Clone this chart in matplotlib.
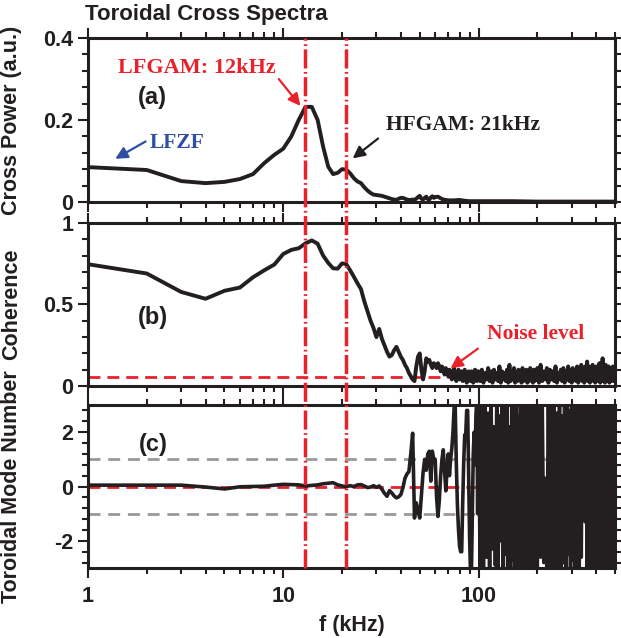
import numpy as np
import matplotlib
matplotlib.use("Agg")
import matplotlib.pyplot as plt
import matplotlib.ticker as ticker
import matplotlib.transforms as mtransforms
from matplotlib.lines import Line2D

plt.rcParams["font.family"] = ["Liberation Sans", "DejaVu Sans"]
plt.rcParams["font.weight"] = "bold"
plt.rcParams["axes.unicode_minus"] = False

# ---- cross power, panel (a)
f_power = [1, 2, 3, 4, 5, 6, 7, 8, 9, 10, 11, 12, 13, 14, 15, 16, 17, 18, 19, 20,
           21, 22, 23, 24, 25, 26, 27, 28, 29, 30, 31, 32, 33, 34, 35, 36, 37, 38, 39, 40,
           41, 42, 43, 44, 45, 46, 47, 48, 49, 50, 51, 52, 53, 54, 55, 56, 57, 58, 59, 60,
           62, 64, 66, 68, 70, 75, 80, 85, 90, 100, 150, 200, 300, 400, 500]
cross_power = [0.085, 0.078, 0.051, 0.046, 0.049, 0.056, 0.068, 0.095, 0.115, 0.130,
               0.160, 0.200, 0.232, 0.232, 0.200, 0.135, 0.086, 0.068, 0.071, 0.080,
               0.079, 0.070, 0.058, 0.050, 0.046, 0.036, 0.028, 0.022, 0.018, 0.017,
               0.016, 0.015, 0.013, 0.011, 0.009, 0.007, 0.006, 0.005, 0.008, 0.010,
               0.010, 0.008, 0.006, 0.005, 0.005, 0.006, 0.005, 0.008, 0.012, 0.015,
               0.008, 0.006, 0.010, 0.013, 0.007, 0.006, 0.011, 0.014, 0.010, 0.012,
               0.013, 0.009, 0.006, 0.005, 0.004, 0.004, 0.005, 0.003, 0.002, 0.002,
               0.002, 0.001, 0.001, 0.001, 0.001]

# ---- shared frequency grid for coherence and mode number (kHz)
freq = np.concatenate([np.arange(1, 100), np.arange(100, 200, 2), np.arange(200, 501, 4)])

coherence = [
    0.747, 0.690, 0.577, 0.535, 0.584, 0.604, 0.667, 0.710, 0.745, 0.810,
    0.835, 0.845, 0.875, 0.893, 0.873, 0.800, 0.755, 0.722, 0.720, 0.752,
    0.748, 0.710, 0.670, 0.630, 0.595, 0.520, 0.460, 0.400, 0.355, 0.300,
    0.350, 0.290, 0.250, 0.210, 0.180, 0.190, 0.220, 0.240, 0.210, 0.180,
    0.160, 0.130, 0.110, 0.080, 0.060, 0.040, 0.030, 0.120, 0.180, 0.200,
    0.100, 0.040, 0.090, 0.170, 0.150, 0.160, 0.130, 0.110, 0.140,
    # 60 - 99 kHz
    0.13, 0.11, 0.14, 0.12, 0.09, 0.12, 0.10, 0.07, 0.11, 0.09,
    0.06, 0.10, 0.08, 0.04, 0.09, 0.11, 0.05, 0.03, 0.08, 0.10,
    0.04, 0.07, 0.09, 0.03, 0.05, 0.10, 0.06, 0.02, 0.08, 0.09,
    0.04, 0.03, 0.09, 0.06, 0.02, 0.08, 0.10, 0.04, 0.03, 0.09,
    # 100 - 198 kHz
    0.09, 0.03, 0.10, 0.02, 0.08, 0.04, 0.11, 0.03, 0.09, 0.02,
    0.10, 0.04, 0.08, 0.03, 0.12, 0.02, 0.09, 0.04, 0.08, 0.03,
    0.10, 0.02, 0.13, 0.03, 0.09, 0.04, 0.11, 0.02, 0.08, 0.03,
    0.10, 0.04, 0.09, 0.02, 0.11, 0.03, 0.08, 0.04, 0.10, 0.02,
    0.09, 0.03, 0.11, 0.04, 0.08, 0.02, 0.10, 0.03, 0.09, 0.04,
    # 200 - 500 kHz
    0.11, 0.02, 0.13, 0.03, 0.09, 0.04, 0.11, 0.02, 0.10, 0.04,
    0.09, 0.03, 0.12, 0.02, 0.08, 0.04, 0.10, 0.03, 0.11, 0.02,
    0.09, 0.04, 0.12, 0.03, 0.10, 0.02, 0.11, 0.04, 0.09, 0.03,
    0.12, 0.02, 0.10, 0.04, 0.13, 0.03, 0.11, 0.02, 0.12, 0.04,
    0.15, 0.03, 0.12, 0.02, 0.09, 0.04, 0.13, 0.03, 0.11, 0.02,
    0.12, 0.04, 0.10, 0.03, 0.14, 0.02, 0.12, 0.03, 0.17, 0.04,
    0.12, 0.02, 0.13, 0.03, 0.10, 0.04, 0.12, 0.02, 0.09, 0.03,
    0.11, 0.04, 0.12, 0.03, 0.10, 0.05]

mode_number = [
    0.05, 0.05, 0.05, -0.02, -0.09, -0.01, 0.00, 0.01, 0.05, 0.08,
    0.07, 0.06, 0.02, 0.04, 0.06, 0.10, 0.12, 0.14, 0.06, 0.02,
    -0.01, 0.03, 0.00, 0.06, 0.07, 0.02, -0.04, -0.02, 0.03, -0.03,
    0.02, -0.10, -0.25, -0.36, -0.15, -0.24, -0.35, -0.42, -0.38, -0.30,
    -0.05, 0.30, 0.46, 0.55, 1.20, 1.96, -1.16, -0.60, -0.90, -1.16,
    -0.30, 0.50, 1.00, 0.60, 1.20, 1.30, 0.20, 1.30, 1.00,
    # 60 - 99 kHz
    1.0, -0.4, -1.1, -0.5, 0.4, 1.0, 1.35, 0.6, -0.16, 0.6,
    1.2, 0.4, 1.0, 1.4, 2.0, 2.9, 2.9, 0.8, -0.7, -1.6,
    -2.2, -2.4, -2.4, -0.6, 0.9, 1.9, 1.9, 2.8, 2.8, 0.5,
    -1.8, -3.2, -3.2, -1.0, 1.2, 2.0, 0.8, 2.6, 3.2, -1.0,
    # 100 - 198 kHz
    3.2, -3.2, 2.9, -3.0, 3.2, -2.6, 2.7, -3.2, 3.1, -2.3,
    2.2, -2.9, 3.2, -3.1, 2.6, -2.0, 3.2, -3.2, 2.9, -2.5,
    3.1, -3.0, 2.2, -3.2, 3.2, -2.7, 2.8, -3.1, 3.2, -2.9,
    2.6, -3.2, 3.0, -2.1, 3.2, -3.1, 2.9, -2.6, 3.1, -3.2,
    2.8, -2.9, 3.2, -3.0, 2.7, -3.2, 3.1, -2.8, 3.2, -3.1,
    # 200 - 500 kHz
    -3.2, 3.0, -2.6, 3.2, -2.8, 0.3, -3.0, 3.1, -3.2, 2.9,
    -2.9, 3.2, -3.1, 2.7, -2.9, 3.2, -3.2, 2.6, -2.8, 3.0,
    -3.2, 3.2, -2.5, 2.8, -3.0, 3.2, -2.7, 3.1, -3.2, 2.6,
    -2.9, 3.2, -3.1, 2.9, -2.6, 3.2, -1.0, 2.8, -1.3, 3.1,
    -3.2, 2.9, -2.8, 3.2, -3.0, 2.7, -3.2, 3.1, -2.6, 3.2,
    -2.9, 2.8, -3.2, 3.0, -2.7, 3.2, -3.1, 2.6, -3.2, 3.1,
    -2.8, 3.2, -2.9, 2.7, -3.2, 3.0, -3.0, 3.2, -2.7, 2.8,
    -3.2, 3.1, -2.9, 3.2, -3.1, 2.9]

assert len(coherence) == len(freq) and len(mode_number) == len(freq)

lfgam_khz = 13
hfgam_khz = 21
noise_level = 0.055

RED = "#e8212b"
BLUE = "#2f4fa3"
INK = "#231f20"
serif = ["Liberation Serif", "DejaVu Serif"]

fig = plt.figure(figsize=(6.21, 6.38), dpi=100)
left, width = 0.1417, 0.8486
ax_a = fig.add_axes([left, 0.6834, width, 0.2571])
ax_b = fig.add_axes([left, 0.3950, width, 0.2555])
ax_c = fig.add_axes([left, 0.1097, width, 0.2555])

for ax in (ax_a, ax_b, ax_c):
    ax.set_xscale("log")
    ax.set_xlim(1, 500)
    for sp in ax.spines.values():
        sp.set_linewidth(2.2)
        sp.set_color(INK)
    ax.tick_params(which="both", direction="out", top=True, right=True,
                   width=1.5, labelsize=15.5, color=INK, labelcolor=INK)
    ax.tick_params(which="major", length=7)
    ax.tick_params(which="minor", length=4)
    ax.tick_params(axis="x", which="major", pad=6)
    ax.xaxis.set_major_formatter(ticker.FuncFormatter(lambda v, p: f"{v:g}"))
    ax.xaxis.set_minor_formatter(ticker.NullFormatter())
    ax.yaxis.set_major_formatter(ticker.FuncFormatter(lambda v, p: f"{v:g}"))
    ax.yaxis.set_label_coords(-0.125, 0.5)

for ax in (ax_a, ax_b):
    ax.tick_params(axis="x", labelbottom=False)

# (a) cross power
ax_a.plot(f_power, cross_power, color=INK, lw=2.8)
ax_a.set_ylim(0, 0.4)
ax_a.yaxis.set_major_locator(ticker.MultipleLocator(0.2))
ax_a.yaxis.set_minor_locator(ticker.MultipleLocator(0.04))
ax_a.set_ylabel("Cross Power (a.u.)", fontsize=15.5, fontweight="bold", color=INK)
ax_a.text(0.123, 0.64, "(a)", transform=ax_a.transAxes, fontsize=17,
          ha="center", va="center", color=INK)

ax_a.text(2.86, 0.144, "LFZF", color=BLUE, fontsize=15.5, family=serif,
          fontweight="bold", ha="center", va="center")
ax_a.annotate("", xy=(1.34, 0.102), xytext=(2.03, 0.151),
              arrowprops=dict(arrowstyle="-|>", color=BLUE, lw=1.6, mutation_scale=18))
ax_a.text(3.62, 0.327, "LFGAM: 12kHz", color=RED, fontsize=16, family=serif,
          fontweight="bold", ha="center", va="center")
ax_a.annotate("", xy=(12.5, 0.229), xytext=(9.3, 0.305),
              arrowprops=dict(arrowstyle="-|>", color=RED, lw=1.6, mutation_scale=18))
ax_a.text(83, 0.188, "HFGAM: 21kHz", color=INK, fontsize=15.5, family=serif,
          fontweight="bold", ha="center", va="center")
ax_a.annotate("", xy=(22.1, 0.102), xytext=(31.4, 0.159),
              arrowprops=dict(arrowstyle="-|>", color=INK, lw=1.6, mutation_scale=18))

# (b) coherence
ax_b.axhline(noise_level, color=RED, lw=2, dashes=(4.3, 2.5), zorder=1)
ax_b.plot(freq, coherence, color=INK, lw=2.8, zorder=2)
ax_b.set_ylim(0, 1)
ax_b.yaxis.set_major_locator(ticker.MultipleLocator(0.5))
ax_b.yaxis.set_minor_locator(ticker.MultipleLocator(0.1))
ax_b.set_ylabel("Coherence", fontsize=15.5, fontweight="bold", color=INK)
ax_b.text(0.123, 0.423, "(b)", transform=ax_b.transAxes, fontsize=17,
          ha="center", va="center", color=INK)
ax_b.text(196, 0.318, "Noise level", color=RED, fontsize=15.5, family=serif,
          fontweight="bold", ha="center", va="center")
ax_b.annotate("", xy=(70, 0.098), xytext=(102, 0.239),
              arrowprops=dict(arrowstyle="-|>", color=RED, lw=1.6, mutation_scale=18))

# (c) toroidal mode number
for lvl in (1, -1):
    ax_c.axhline(lvl, color="#999999", lw=2, dashes=(4.3, 2.8), zorder=1)
ax_c.axhline(0, color=RED, lw=2, dashes=(4.3, 2.5), zorder=1)
ax_c.plot(freq, mode_number, color=INK, lw=2.6, zorder=2)
ax_c.set_ylim(-3, 3)
ax_c.yaxis.set_major_locator(ticker.MultipleLocator(2))
ax_c.yaxis.set_minor_locator(ticker.MultipleLocator(0.4))
ax_c.set_ylabel("Toroidal Mode Number", fontsize=15.5, fontweight="bold", color=INK)
ax_c.set_xlabel("f (kHz)", fontsize=15.5, fontweight="bold", labelpad=6, color=INK)
ax_c.text(0.123, 0.76, "(c)", transform=ax_c.transAxes, fontsize=17,
          ha="center", va="center", color=INK)

# GAM frequency markers running through all three panels
trans = mtransforms.blended_transform_factory(ax_c.transData, fig.transFigure)
y_bot = 0.1097
y_top = 0.6834 + 0.2571
for fk in (lfgam_khz, hfgam_khz):
    fig.add_artist(Line2D([fk, fk], [y_bot, y_top], transform=trans, color=RED,
                          lw=2.5, dashes=(5.5, 1.0, 0.5, 1.0)))

fig.text(0.137, 0.977, "Toroidal Cross Spectra", fontsize=16, fontweight="bold",
         ha="left", va="center", color=INK)

fig.savefig("out.png", dpi=100)
